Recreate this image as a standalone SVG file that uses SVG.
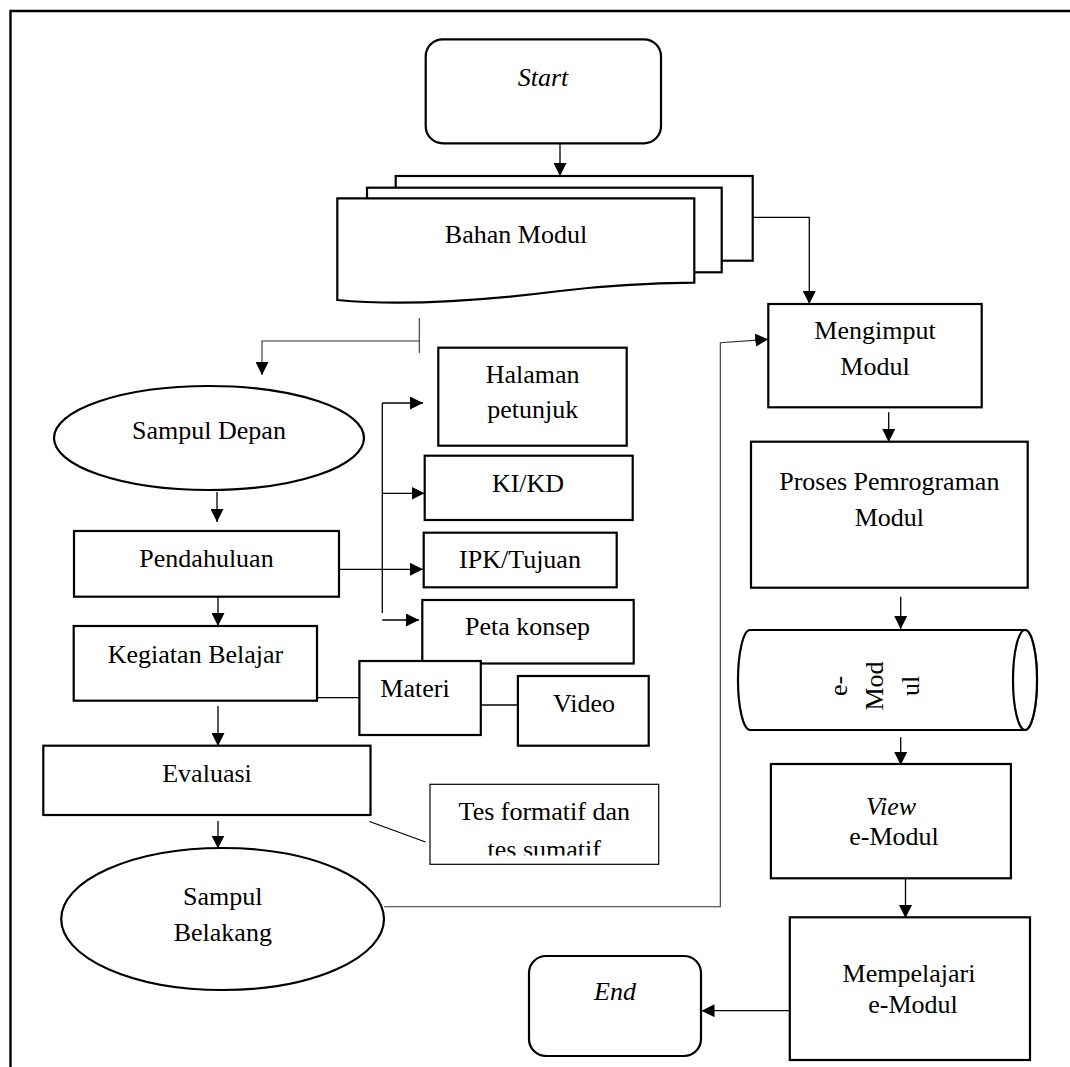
<svg xmlns="http://www.w3.org/2000/svg" width="1070" height="1067" viewBox="0 0 1070 1067">
  <style>
    .box { fill: #fff; stroke: #000; stroke-width: 2.2; }
    .thin { fill: #fff; stroke: #000; stroke-width: 1.2; }
    .lbl { font-family: "Liberation Serif", "Times New Roman", serif; font-size: 26px; fill: #000; text-anchor: middle; }
    .it { font-style: italic; }
    .wire { fill: none; stroke: #000; stroke-width: 1.3; }
    .soft { fill: none; stroke: #333; stroke-width: 1.1; }
  </style>
  <defs>
    <marker id="arr" viewBox="0 0 13 13" refX="13" refY="6.5" markerWidth="13" markerHeight="13" markerUnits="userSpaceOnUse" orient="auto">
      <path d="M0,0 L13,6.5 L0,13 z" fill="#000"/>
    </marker>
    <clipPath id="tesClip"><rect x="430" y="784" width="229" height="71.5"/></clipPath>
  </defs>

  <rect width="1070" height="1067" fill="#fff"/>
  <!-- outer frame: top and left edges only -->
  <path d="M10.5,1067 V11 H1070" fill="none" stroke="#000" stroke-width="2.4"/>

  <!-- connectors -->
  <g id="connectors">
    <line class="wire" x1="560" y1="143" x2="560" y2="176" marker-end="url(#arr)"/>
    <path class="wire" d="M752,217.3 H809.3 V304" marker-end="url(#arr)"/>
    <line class="soft" x1="419.3" y1="318" x2="419.3" y2="353"/>
    <path class="soft" d="M419.3,341 H262 V375" marker-end="url(#arr)"/>
    <line class="wire" x1="217" y1="492" x2="217" y2="522" marker-end="url(#arr)"/>
    <line class="wire" x1="339" y1="569.3" x2="423" y2="569.3" marker-end="url(#arr)"/>
    <line class="wire" x1="382.3" y1="403" x2="382.3" y2="613"/>
    <line class="wire" x1="382.3" y1="403" x2="423" y2="403" marker-end="url(#arr)"/>
    <line class="wire" x1="382.3" y1="493.3" x2="424.5" y2="493.3" marker-end="url(#arr)"/>
    <line class="wire" x1="382.3" y1="620" x2="419" y2="620" marker-end="url(#arr)"/>
    <line class="wire" x1="218" y1="597" x2="218" y2="626" marker-end="url(#arr)"/>
    <line class="wire" x1="317" y1="697.7" x2="359.4" y2="697.7"/>
    <line class="wire" x1="481" y1="705" x2="518" y2="705"/>
    <line class="wire" x1="218" y1="706" x2="218" y2="746" marker-end="url(#arr)"/>
    <line class="wire" x1="369.5" y1="821.5" x2="425.5" y2="842"/>
    <line class="wire" x1="218" y1="821" x2="218" y2="848.5" marker-end="url(#arr)"/>
    <path class="soft" d="M384,906.7 H720.3 V342.7 L768.3,339.3" marker-end="url(#arr)"/>
    <line class="wire" x1="888.7" y1="412.3" x2="888.7" y2="442" marker-end="url(#arr)"/>
    <line class="wire" x1="900.7" y1="596.7" x2="900.7" y2="629" marker-end="url(#arr)"/>
    <line class="wire" x1="900.7" y1="737.3" x2="900.7" y2="765" marker-end="url(#arr)"/>
    <line class="wire" x1="905.5" y1="878.5" x2="905.5" y2="918" marker-end="url(#arr)"/>
    <line class="wire" x1="790" y1="1010.7" x2="701.5" y2="1010.7" marker-end="url(#arr)"/>
  </g>

  <g id="start">
    <rect class="box" x="425.7" y="39.3" width="235.3" height="104" rx="17"/>
    <text class="lbl it" x="543" y="86">Start</text>
  </g>

  <g id="bahan-modul">
    <rect class="box" x="395.7" y="176" width="357" height="84.7"/>
    <rect class="box" x="367" y="187.7" width="354.7" height="84.6"/>
    <path class="box" d="M337.3,198.3 H694.3 V282.7 C660,283 610,285 560,291 C520,296 420,308 337.3,300 Z"/>
    <text class="lbl" x="516" y="243">Bahan Modul</text>
  </g>

  <g id="sampul-depan">
    <ellipse class="box" cx="209" cy="438" rx="155" ry="52"/>
    <text class="lbl" x="209" y="438.5">Sampul Depan</text>
  </g>

  <g id="halaman-petunjuk">
    <rect class="box" x="438.3" y="347.7" width="188.4" height="98"/>
    <text class="lbl" x="532.7" y="383.3">Halaman</text>
    <text class="lbl" x="532.7" y="418.3">petunjuk</text>
  </g>

  <g id="ki-kd">
    <rect class="box" x="424.7" y="455.7" width="208" height="64.3"/>
    <text class="lbl" x="528" y="491.7">KI/KD</text>
  </g>

  <g id="ipk-tujuan">
    <rect class="box" x="423.7" y="532.7" width="193" height="54.6"/>
    <text class="lbl" x="520" y="568.3">IPK/Tujuan</text>
  </g>

  <g id="peta-konsep">
    <rect class="box" x="422.3" y="600" width="211.4" height="63.5"/>
    <text class="lbl" x="527.5" y="635">Peta konsep</text>
  </g>

  <g id="pendahuluan">
    <rect class="box" x="74" y="531" width="265" height="65.7"/>
    <text class="lbl" x="206.5" y="567">Pendahuluan</text>
  </g>

  <g id="kegiatan-belajar">
    <rect class="box" x="73.7" y="626" width="243.3" height="74.7"/>
    <text class="lbl" x="195.5" y="662.7">Kegiatan Belajar</text>
  </g>

  <g id="materi">
    <rect class="box" x="359.4" y="661" width="121.4" height="74"/>
    <text class="lbl" x="415" y="696.7">Materi</text>
  </g>

  <g id="video">
    <rect class="box" x="517.9" y="676" width="130.8" height="69.7"/>
    <text class="lbl" x="584" y="712.3">Video</text>
  </g>

  <g id="evaluasi">
    <rect class="box" x="43.3" y="745.7" width="327.2" height="69.3"/>
    <text class="lbl" x="207" y="781.7">Evaluasi</text>
  </g>

  <g id="tes">
    <rect class="thin" x="430" y="784.3" width="228.7" height="80"/>
    <text class="lbl" x="544.3" y="820">Tes formatif dan</text>
    <text class="lbl" x="544.3" y="858" clip-path="url(#tesClip)">tes sumatif</text>
  </g>

  <g id="sampul-belakang">
    <ellipse class="box" cx="222.6" cy="919" rx="161.4" ry="71"/>
    <text class="lbl" x="222.8" y="905">Sampul</text>
    <text class="lbl" x="222.8" y="940.7">Belakang</text>
  </g>

  <g id="mengimput-modul">
    <rect class="box" x="768.3" y="304" width="213.4" height="103.3"/>
    <text class="lbl" x="875" y="339.3">Mengimput</text>
    <text class="lbl" x="875" y="375">Modul</text>
  </g>

  <g id="proses-pemrograman">
    <rect class="box" x="751" y="441.7" width="276.7" height="146"/>
    <text class="lbl" x="889.3" y="490">Proses Pemrograman</text>
    <text class="lbl" x="889.3" y="525.7">Modul</text>
  </g>

  <g id="e-modul">
    <path class="box" d="M750,630 H1025 A12,50 0 0 1 1025,730 H750 A12,50 0 0 1 750,630 Z"/>
    <ellipse class="box" cx="1025" cy="680" rx="12" ry="50"/>
    <text class="lbl" transform="translate(846.7,686) rotate(-90)">e-</text>
    <text class="lbl" transform="translate(882.7,686) rotate(-90)">Mod</text>
    <text class="lbl" transform="translate(918.5,686) rotate(-90)">ul</text>
  </g>

  <g id="view-e-modul">
    <rect class="box" x="770.9" y="764" width="240" height="114.3"/>
    <text class="lbl it" x="891" y="815">View</text>
    <text class="lbl" x="894" y="845">e-Modul</text>
  </g>

  <g id="mempelajari">
    <rect class="box" x="789.8" y="917.3" width="240.2" height="142.7"/>
    <text class="lbl" x="909" y="981.7">Mempelajari</text>
    <text class="lbl" x="913" y="1012.7">e-Modul</text>
  </g>

  <g id="end">
    <rect class="box" x="529" y="956" width="172" height="100" rx="17"/>
    <text class="lbl it" x="615" y="1000">End</text>
  </g>
</svg>
